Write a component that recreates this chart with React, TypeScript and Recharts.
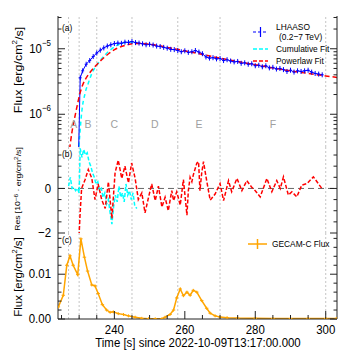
import React from 'react';
import { LineChart, Line, XAxis, YAxis, ReferenceLine, ReferenceDot } from 'recharts';

const FONT = '"Liberation Sans", Arial, Helvetica, sans-serif';
const SX = 0.88;

// ---- categories / phases ----
const phaseBounds = [227, 230, 235, 245, 258, 270, 300];
const phaseNames = ['A', 'B', 'C', 'D', 'E', 'F'];
const phaseCenters = [228.5, 232.5, 240, 251.5, 264, 285];

// ---- axes ----
const X_DOMAIN: [number, number] = [224, 303.2];
const xTicks = [225, 230, 235, 240, 245, 250, 255, 260, 265, 270, 275, 280, 285, 290, 295, 300];
const xMajor = [240, 260, 280, 300];

const A_DOMAIN: [number, number] = [3.1623e-7, 3.1623e-5];
const aTicks = [4e-7, 5e-7, 6e-7, 7e-7, 8e-7, 9e-7, 1e-6, 2e-6, 3e-6, 4e-6, 5e-6, 6e-6, 7e-6, 8e-6, 9e-6, 1e-5, 2e-5, 3e-5];
const aMajor = [1e-6, 1e-5];
const aMajorExp = ['−6', '−5'];

const B_DOMAIN: [number, number] = [-2, 1.86];
const bTicks = [-2, -1.5, -1, -0.5, 0, 0.5, 1, 1.5];
const bMajor = [-2, 0];
const bMajorLabels = ['−2', '0'];

const C_DOMAIN: [number, number] = [0, 0.0192];
const cTicks = [0, 0.002, 0.004, 0.006, 0.008, 0.01, 0.012, 0.014, 0.016, 0.018];
const cMajor = [0, 0.01];
const cMajorLabels = ['0.00', '0.01'];

// ---- LHAASO flux (0.2-7 TeV) ----
const lhaasoTime = [229.8, 230.3, 231, 232, 233, 234, 235, 236, 237, 238, 239, 240, 241, 242, 243, 244, 245, 246, 247, 248, 249, 250,
  251, 252, 253, 254, 255, 256, 257, 258, 259, 260, 261, 262, 263, 264, 265, 266, 267, 268, 269, 270,
  271, 272, 273, 274, 275, 276, 277, 278, 279, 280, 281, 282, 283, 284, 285, 286, 287, 288, 289, 290,
  291, 292, 293, 294, 295, 296, 297, 298, 299];
const lhaasoFlux = [2.0e-7, 3.6e-6, 4.6e-6, 5.8e-6, 6.6e-6, 7.6e-6, 8.6e-6, 9.5e-6, 1.03e-5, 1.10e-5, 1.15e-5, 1.20e-5, 1.22e-5, 1.21e-5, 1.26e-5, 1.25e-5, 1.29e-5, 1.24e-5, 1.22e-5, 1.19e-5, 1.15e-5, 1.17e-5,
  1.14e-5, 1.10e-5, 1.08e-5, 1.05e-5, 1.02e-5, 9.8e-6, 9.7e-6, 9.4e-6, 9.0e-6, 9.3e-6, 8.8e-6, 9.0e-6, 9.4e-6, 8.9e-6, 8.4e-6, 7.5e-6, 7.2e-6, 7.3e-6, 7.0e-6, 7.1e-6,
  6.6e-6, 6.8e-6, 6.5e-6, 6.3e-6, 6.4e-6, 6.0e-6, 6.1e-6, 5.8e-6, 5.9e-6, 5.5e-6, 5.6e-6, 5.3e-6, 5.5e-6, 5.1e-6, 5.2e-6, 4.9e-6, 5.0e-6, 4.8e-6, 4.5e-6, 4.7e-6,
  4.4e-6, 4.6e-6, 4.5e-6, 4.6e-6, 4.7e-6, 4.4e-6, 4.2e-6, 4.1e-6, 4.0e-6];

// ---- Powerlaw fit ----
const powTime = [227.0, 228.0, 228.8, 229.5, 230.25, 231, 231.7, 233, 234.5, 236, 237.4, 239, 240.5, 242, 244, 246, 248, 250, 252, 255, 260, 265, 270, 275, 280, 285, 290, 295, 300, 303.2];
const powFlux = [2.2e-7, 5.5e-7, 9.2e-7, 1.4e-6, 2.1e-6, 2.8e-6, 3.35e-6, 4.3e-6, 5.35e-6, 6.5e-6, 7.6e-6, 8.9e-6, 1.0e-5, 1.08e-5, 1.16e-5, 1.2e-5, 1.2e-5, 1.17e-5, 1.13e-5, 1.05e-5, 9.3e-6, 8.2e-6, 7.2e-6, 6.4e-6, 5.7e-6, 5.1e-6, 4.6e-6, 4.2e-6, 3.85e-6, 3.65e-6];

// ---- Cumulative fit ----
const cumTime = [229.8, 230.2, 230.7, 231.7, 232.6, 233.6, 235.4, 237.4, 240.2, 243, 245, 246.5];
const cumFlux = [2.5e-7, 5e-7, 1.03e-6, 2.1e-6, 2.98e-6, 4.2e-6, 6.0e-6, 8.1e-6, 1.08e-5, 1.25e-5, 1.27e-5, 1.25e-5];

// ---- Residuals (10^-6 erg/cm2/s) ----
const resCumTime = [227, 227.5, 228, 228.5, 229, 229.5, 230, 230.3, 230.8, 231.3, 231.8, 232.3, 232.8, 233.3, 233.8, 234.3, 234.8, 235.3, 235.8, 236.3, 236.8, 237.3, 237.8, 238.3, 238.8, 239.3, 239.8, 240.3, 240.8, 241.3, 241.8, 242.3, 242.8, 243.3, 243.8, 244.3, 244.8, 245.3, 245.8, 246.4];
const resCum = [0.1, 0.5, 0.0, 0.05, -0.1, 0.0, -0.2, 1.8, 1.4, 1.75, 1.5, 1.6, 1.2, 1.0, 0.7, 0.5, 0.2, 0.3, -0.1, 0.0, -0.4, -0.2, -0.7, -0.5, -1.1, -1.6, -0.8, -0.3, -0.6, 0.1, -0.4, -0.2, -0.6, 0.2, -0.3, -0.1, -0.5, -0.2, -0.8, -0.9];

const resPowTime = [229.9, 230.25, 230.7, 231.7, 232.6, 233.6, 234.5, 235.4, 236.4, 237.4, 238.3, 239.3, 240.2, 241.1, 242.1, 243.0, 244.0, 244.9, 245.9, 246.8, 247.8, 248.7, 249.7, 250.6, 251.6, 252.5, 253.5, 254.4, 255.3,
  256.3, 256.8, 257.7, 258.7, 259.6, 260.6, 261.0, 261.5, 262.0, 262.4, 263.4, 263.9, 264.3, 264.8, 265.3, 266.2, 267.2, 268.6, 270.0, 271.0, 272.4, 273.3, 274.8, 276.2, 277.6, 279.0, 280.0, 281.4, 283.3, 284.7, 286.1, 287.1, 288.0, 289.4, 290.4, 291.8, 293.2, 294.7, 296.5, 298.9];
const resPow = [-2.4, -1.2, 0.0, 0.4, 0.85, 0.45, -0.5, 0.2, -0.5, -0.9, 0.3, -1.35, 0.7, 1.27, 0.45, 1.0, 0.25, 1.14, 0.45, -0.5, -0.2, -1.1, -0.4, 0.2, -0.55, 0.1, -0.83, -0.4, -1.0,
  -0.1, -0.55, -0.15, -0.75, 0.4, -1.2, -0.1, 0.5, 0.3, 0.6, 1.13, 1.2, -0.1, 0.7, 1.2, 0.35, -0.53, -0.25, 0.22, -0.55, 0.35, -0.15, 0.45, -0.1, 0.35, 0.05, -0.1, -0.38, 0.45, -0.15, 0.35, 0.0, 0.52, -0.3, -0.15, -0.38, 0.15, 0.22, 0.52, 0.0];

// ---- GECAM-C flux ----
const gecamTime = [224.1, 225.5, 226.5, 227.4, 228.3, 229.6, 230.5, 231.5, 232.4, 233.6, 234.5, 235.4, 236.6, 237.8, 238.8, 239.7, 241.1, 242.6, 244.0, 245.9, 247.8, 249.7, 251.6, 253.5, 254.4, 255.8, 256.8, 257.7, 258.7, 259.6, 260.6, 261.5, 262.4, 263.4, 264.8, 266.2, 267.2, 268.6, 270.0, 272, 275, 280, 285, 290, 295, 300, 303];
const gecamFlux = [0.0027, 0.0053, 0.0120, 0.0141, 0.0120, 0.0099, 0.0179, 0.0138, 0.0107, 0.0076, 0.0074, 0.0057, 0.0032, 0.0020, 0.0015, 0.0016, 0.0012, 0.0010, 0.0007, 0.0004, 0.00015, 0.00006, 0.00004, 0.00005, 0.0004, 0.0010, 0.0020, 0.0047, 0.0067, 0.0052, 0.0060, 0.0053, 0.0064, 0.0060, 0.0041, 0.0024, 0.0013, 0.0007, 0.00044, 0.0003, 0.0002, 0.00015, 0.0001, 0.0001, 0.0001, 0.0001, 0.0001];

const zip = (ts: number[], vs: number[]) => ts.map((t, i) => ({ t, v: vs[i] }));
const lhaasoData = zip(lhaasoTime, lhaasoFlux);
const powData = zip(powTime, powFlux);
const cumData = zip(cumTime, cumFlux);
const resCumData = zip(resCumTime, resCum);
const resPowData = zip(resPowTime, resPow);
const gecamData = zip(gecamTime, gecamFlux);

const W = 358;
const FRAME = '#222';
const GRID = '#c4c4c4';

function ST(props: { x: number; y: number; size: number; anchor?: string; rot?: number; fill?: string; children: React.ReactNode }) {
  const { x, y, size, anchor = 'start', rot = 0, fill = '#000', children } = props;
  return (
    <text
      transform={`translate(${x},${y}) scale(${SX},1)${rot ? ` rotate(${rot})` : ''}`}
      fontSize={size}
      textAnchor={anchor as any}
      dominantBaseline="central"
      fill={fill}
      fontFamily={FONT}
    >
      {children}
    </text>
  );
}

const leftTick = (majors: number[], labels: React.ReactNode[] | null) => (p: any) => {
  const { x, y, payload } = p;
  const idx = majors.findIndex((m) => Math.abs(m - payload.value) <= Math.abs(m) * 1e-6 + 1e-12);
  const major = idx >= 0;
  return (
    <g>
      <line x1={x} x2={x + (major ? 7 : 3.5)} y1={y} y2={y} stroke={FRAME} strokeWidth={1} />
      {major && labels ? (
        <ST x={x - 7} y={y} size={13} anchor="end">{labels[idx]}</ST>
      ) : null}
    </g>
  );
};

const rightTick = (majors: number[]) => (p: any) => {
  const { x, y, payload } = p;
  const major = majors.some((m) => Math.abs(m - payload.value) <= Math.abs(m) * 1e-6 + 1e-12);
  return <line x1={x - (major ? 7 : 3.5)} x2={x} y1={y} y2={y} stroke={FRAME} strokeWidth={1} />;
};

const bottomTick = (withLabels: boolean) => (p: any) => {
  const { x, y, payload } = p;
  const major = xMajor.includes(payload.value);
  return (
    <g>
      <line x1={x} x2={x} y1={y} y2={y - (major ? 8 : 4)} stroke={FRAME} strokeWidth={1} />
      {withLabels && major ? (
        <ST x={x} y={y + 10.5} size={13} anchor="middle">{String(payload.value)}</ST>
      ) : null}
    </g>
  );
};

const topTick = (p: any) => {
  const { x, y, payload } = p;
  const major = xMajor.includes(payload.value);
  return <line x1={x} x2={x} y1={y} y2={y + (major ? 8 : 4)} stroke={FRAME} strokeWidth={1} />;
};

const crossDot = (color: string, hw: number, hh: number) => (p: any) => {
  const { cx, cy, index } = p;
  if (cx == null || cy == null || isNaN(cx) || isNaN(cy)) return <g key={`d${index}`} />;
  return (
    <g key={`d${index}`}>
      <line x1={cx - hw} x2={cx + hw} y1={cy} y2={cy} stroke={color} strokeWidth={1} />
      <line x1={cx} x2={cx} y1={cy - hh} y2={cy + hh} stroke={color} strokeWidth={1} />
    </g>
  );
};

const expLabels = aMajorExp.map((e, i) => (
  <React.Fragment key={i}>
    <tspan>10</tspan>
    <tspan dy={-6} fontSize={9}>{e}</tspan>
  </React.Fragment>
));

function vLines() {
  return phaseBounds.map((b) => (
    <ReferenceLine key={`v${b}`} x={b} xAxisId="b" yAxisId="l" stroke={GRID} strokeDasharray="2 2" strokeWidth={1} />
  ));
}

export default function App() {
  const commonX = {
    type: 'number' as const,
    dataKey: 't',
    domain: X_DOMAIN,
    allowDataOverflow: true,
    ticks: xTicks,
    interval: 0 as const,
    tickSize: 0,
    tickMargin: 0,
    axisLine: { stroke: FRAME, strokeWidth: 1 },
    tickLine: false,
  };
  return (
    <div style={{ position: 'absolute', left: 0, top: 0, width: W, height: 354, background: '#fff', fontFamily: FONT }}>
      {/* Panel (a) */}
      <div style={{ position: 'absolute', left: 0, top: 0 }}>
        <LineChart width={W} height={157} margin={{ top: 16, right: 0, bottom: 10, left: 0 }}>
          <XAxis xAxisId="b" orientation="bottom" height={0} {...commonX} tick={bottomTick(false)} />
          <XAxis xAxisId="t" orientation="top" height={0} {...commonX} tick={topTick} />
          <YAxis yAxisId="l" orientation="left" width={58} type="number" scale="log" domain={A_DOMAIN} allowDataOverflow ticks={aTicks} interval={0} tickSize={0} tickMargin={0} tickLine={false} axisLine={{ stroke: FRAME }} tick={leftTick(aMajor, expLabels)} />
          <YAxis yAxisId="r" orientation="right" width={21} type="number" scale="log" domain={A_DOMAIN} allowDataOverflow ticks={aTicks} interval={0} tickSize={0} tickMargin={0} tickLine={false} axisLine={{ stroke: FRAME }} tick={rightTick(aMajor)} />
          {vLines()}
          {phaseNames.map((n, i) => (
            <ReferenceDot key={n} x={phaseCenters[i]} y={7.1e-7} r={0} xAxisId="b" yAxisId="l" fill="none" stroke="none"
              label={{ value: n, position: 'center', fill: '#a0a0a0', fontSize: 10.5, fontFamily: FONT }} />
          ))}
          <Line xAxisId="b" yAxisId="l" data={cumData} dataKey="v" type="monotone" stroke="#00ffff" strokeWidth={1.5} strokeDasharray="4 3" dot={false} isAnimationActive={false} />
          <Line xAxisId="b" yAxisId="l" data={lhaasoData} dataKey="v" type="linear" stroke="#0000ff" strokeWidth={1} dot={crossDot('#0000ff', 1.5, 2.5)} isAnimationActive={false} />
          <Line xAxisId="b" yAxisId="l" data={powData} dataKey="v" type="monotone" stroke="#ff0000" strokeWidth={1.5} strokeDasharray="5 3" dot={false} isAnimationActive={false} />
        </LineChart>
      </div>

      {/* Panel (b) */}
      <div style={{ position: 'absolute', left: 0, top: 137 }}>
        <LineChart width={W} height={106} margin={{ top: 10, right: 0, bottom: 10, left: 0 }}>
          <XAxis xAxisId="b" orientation="bottom" height={0} {...commonX} tick={bottomTick(false)} />
          <XAxis xAxisId="t" orientation="top" height={0} {...commonX} tick={topTick} />
          <YAxis yAxisId="l" orientation="left" width={58} type="number" domain={B_DOMAIN} allowDataOverflow ticks={bTicks} interval={0} tickSize={0} tickMargin={0} tickLine={false} axisLine={{ stroke: FRAME }} tick={leftTick(bMajor, bMajorLabels)} />
          <YAxis yAxisId="r" orientation="right" width={21} type="number" domain={B_DOMAIN} allowDataOverflow ticks={bTicks} interval={0} tickSize={0} tickMargin={0} tickLine={false} axisLine={{ stroke: FRAME }} tick={rightTick(bMajor)} />
          {vLines()}
          <ReferenceLine y={0} xAxisId="b" yAxisId="l" stroke="#666" strokeDasharray="6 4" strokeWidth={1} />
          <Line xAxisId="b" yAxisId="l" data={resCumData} dataKey="v" type="linear" stroke="#00ffff" strokeWidth={1.5} strokeDasharray="4 2" dot={false} isAnimationActive={false} />
          <Line xAxisId="b" yAxisId="l" data={resPowData} dataKey="v" type="linear" stroke="#ff0000" strokeWidth={1.5} strokeDasharray="4 2" dot={false} isAnimationActive={false} />
        </LineChart>
      </div>

      {/* Panel (c) */}
      <div style={{ position: 'absolute', left: 0, top: 223 }}>
        <LineChart width={W} height={131} margin={{ top: 10, right: 0, bottom: 0, left: 0 }}>
          <XAxis xAxisId="b" orientation="bottom" height={35} {...commonX} tick={bottomTick(true)} />
          <XAxis xAxisId="t" orientation="top" height={0} {...commonX} tick={topTick} />
          <YAxis yAxisId="l" orientation="left" width={58} type="number" domain={C_DOMAIN} allowDataOverflow ticks={cTicks} interval={0} tickSize={0} tickMargin={0} tickLine={false} axisLine={{ stroke: FRAME }} tick={leftTick(cMajor, cMajorLabels)} />
          <YAxis yAxisId="r" orientation="right" width={21} type="number" domain={C_DOMAIN} allowDataOverflow ticks={cTicks} interval={0} tickSize={0} tickMargin={0} tickLine={false} axisLine={{ stroke: FRAME }} tick={rightTick(cMajor)} />
          {vLines()}
          <Line xAxisId="b" yAxisId="l" data={gecamData} dataKey="v" type="linear" stroke="#ffa500" strokeWidth={1.5} dot={crossDot('#ffa500', 1.75, 1.5)} isAnimationActive={false} />
        </LineChart>
      </div>

      {/* Titles, panel tags and legends */}
      <svg width={W} height={354} style={{ position: 'absolute', left: 0, top: 0, pointerEvents: 'none' }}>
        <ST x={62} y={28} size={9.5}>(a)</ST>
        <ST x={62} y={154} size={9.5}>(b)</ST>
        <ST x={62} y={240} size={9.5}>(c)</ST>

        <ST x={18} y={70} size={12.5} anchor="middle" rot={-90}>
          Flux [erg/cm<tspan dy={-4} fontSize={8}>2</tspan><tspan dy={4}>/s]</tspan>
        </ST>
        <ST x={18} y={189} size={8.6} anchor="middle" rot={-90}>
          Res [10<tspan dy={-3.5} fontSize={6.5}>−6</tspan><tspan dy={3.5}> · erg/cm</tspan><tspan dy={-3.5} fontSize={6.5}>2</tspan><tspan dy={3.5}>/s]</tspan>
        </ST>
        <ST x={18} y={277} size={11.5} anchor="middle" rot={-90}>
          Flux [erg/cm<tspan dy={-4} fontSize={7.5}>2</tspan><tspan dy={4}>/s]</tspan>
        </ST>
        <ST x={198} y={343} size={13} anchor="middle">Time [s] since 2022-10-09T13:17:00.000</ST>

        {/* legend (a) */}
        <line x1={253} x2={268} y1={32} y2={32} stroke="#0000ff" strokeWidth={1.2} strokeDasharray="3 2" />
        <line x1={260.5} x2={260.5} y1={27} y2={37} stroke="#0000ff" strokeWidth={1.2} />
        <ST x={276} y={27.3} size={9.5}>LHAASO</ST>
        <ST x={279} y={36.7} size={9.5}>(0.2−7 TeV)</ST>
        <line x1={253} x2={268} y1={49} y2={49} stroke="#00ffff" strokeWidth={1.5} strokeDasharray="4 2" />
        <ST x={276} y={49} size={9.5}>Cumulative Fit</ST>
        <line x1={253} x2={268} y1={61} y2={61} stroke="#ff0000" strokeWidth={1.5} strokeDasharray="4 2" />
        <ST x={276} y={61} size={9.5}>Powerlaw Fit</ST>

        {/* legend (c) */}
        <line x1={248} x2={267} y1={244} y2={244} stroke="#ffa500" strokeWidth={1.5} />
        <line x1={257.5} x2={257.5} y1={239} y2={249} stroke="#ffa500" strokeWidth={1.5} />
        <ST x={272} y={244} size={9.5}>GECAM-C Flux</ST>
      </svg>
    </div>
  );
}
